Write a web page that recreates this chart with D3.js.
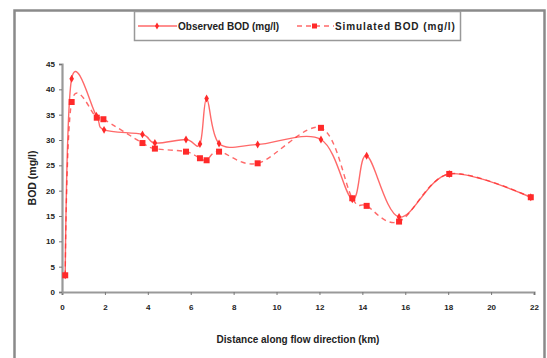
<!DOCTYPE html>
<html>
<head>
<meta charset="utf-8">
<script src="https://cdn.jsdelivr.net/npm/d3@7"></script>
<style>
  body { margin: 0; background: #fff; }
  text { font-family: "Liberation Sans", Arial, sans-serif; fill: #222; }
</style>
</head>
<body>
<div id="chart"></div>
<script>
// distance along flow (km) and BOD (mg/l)
const obsDist = [0.15, 0.45, 1.6, 1.96, 3.75, 4.33, 5.78, 6.43, 6.74, 7.32, 9.12, 12.07, 13.53, 14.2, 15.71, 18.05, 21.85];
const obsBod  = [3.3, 42.1, 34.8, 32.0, 31.1, 29.4, 30.1, 29.2, 38.2, 29.3, 29.1, 30.1, 18.3, 26.9, 14.8, 23.3, 18.7];
const simDist = [0.15, 0.45, 1.62, 1.93, 3.75, 4.33, 5.78, 6.43, 6.74, 7.32, 9.12, 12.07, 13.53, 14.2, 15.71, 18.05, 21.85];
const simBod  = [3.3, 37.5, 34.4, 34.1, 29.4, 28.3, 27.7, 26.4, 26.0, 27.7, 25.4, 32.4, 18.5, 17.0, 13.9, 23.3, 18.7];
const xTicks = [0, 2, 4, 6, 8, 10, 12, 14, 16, 18, 20, 22];
const yTicks = [0, 5, 10, 15, 20, 25, 30, 35, 40, 45];
const legendNames = ["Observed BOD (mg/l)", "Simulated BOD (mg/l)"];

const width = 547, height = 358;
const red = "#ff2a2a";

const svg = d3.select("#chart").append("svg")
  .attr("width", width).attr("height", height);

// outer frame
svg.append("rect")
  .attr("x", 14.5).attr("y", 10.5).attr("width", 530).attr("height", 360)
  .attr("fill", "none").attr("stroke", "#8a8a8a").attr("stroke-width", 2.5);

var x = d3.scaleLinear().domain([0, 22]).range([62, 534]);
var y = d3.scaleLinear().domain([0, 45]).range([292, 64]);

// axes
var xAxis = svg.append("g").attr("transform", "translate(0,292)")
  .call(d3.axisBottom(x).tickValues(xTicks).tickSize(3).tickPadding(9));
var yAxis = svg.append("g").attr("transform", "translate(62,0)")
  .call(d3.axisLeft(y).tickValues(yTicks).tickSize(3).tickPadding(4));
[xAxis, yAxis].forEach(function(a) {
  a.select(".domain").attr("stroke", "#999").attr("stroke-width", 2.2);
  a.selectAll(".tick line").attr("stroke", "#777");
  a.selectAll(".tick text").attr("font-size", 8).attr("font-weight", "bold")
    .attr("fill", "#222").attr("font-family", "'Liberation Sans', Arial, sans-serif");
});

// axis titles
svg.append("text")
  .attr("x", 298).attr("y", 343)
  .attr("text-anchor", "middle").attr("font-size", 10).attr("font-weight", "bold")
  .text("Distance along flow direction (km)");
svg.append("text")
  .attr("transform", "translate(36,178) rotate(-90)")
  .attr("text-anchor", "middle").attr("font-size", 10.5).attr("font-weight", "bold")
  .text("BOD (mg/l)");

var line = d3.line()
  .x(function(d) { return x(d[0]); })
  .y(function(d) { return y(d[1]); })
  .curve(d3.curveCardinal.tension(0));

var obs = d3.zip(obsDist, obsBod);
var sim = d3.zip(simDist, simBod);

svg.append("path").datum(sim)
  .attr("d", line).attr("fill", "none")
  .attr("stroke", red).attr("stroke-opacity", 0.7).attr("stroke-width", 1.4)
  .attr("stroke-dasharray", "5,4");
svg.append("path").datum(obs)
  .attr("d", line).attr("fill", "none")
  .attr("stroke", red).attr("stroke-opacity", 0.7).attr("stroke-width", 1.4);

// markers
svg.selectAll(".sq").data(sim).enter().append("rect")
  .attr("class", "sq")
  .attr("x", function(d) { return x(d[0]) - 3; })
  .attr("y", function(d) { return y(d[1]) - 3; })
  .attr("width", 6).attr("height", 6).attr("fill", red);
svg.selectAll(".dm").data(obs).enter().append("path")
  .attr("class", "dm")
  .attr("transform", function(d) { return "translate(" + x(d[0]) + "," + y(d[1]) + ")"; })
  .attr("d", d3.symbol(d3.symbolDiamond, 18)).attr("fill", red);

// legend
var lg = svg.append("g");
lg.append("rect").attr("x", 134.5).attr("y", 11.5).attr("width", 326).attr("height", 29)
  .attr("fill", "#fff").attr("stroke", "#999").attr("stroke-width", 1.5);
lg.append("line").attr("x1", 138).attr("x2", 177).attr("y1", 26).attr("y2", 26)
  .attr("stroke", red).attr("stroke-width", 1.4).attr("stroke-opacity", 0.7);
lg.append("path").attr("transform", "translate(157,26)")
  .attr("d", d3.symbol(d3.symbolDiamond, 14)).attr("fill", red);
lg.append("text").attr("x", 178).attr("y", 30).attr("font-size", 10).attr("font-weight", "bold")
  .text(legendNames[0]);
lg.append("line").attr("x1", 297).attr("x2", 334).attr("y1", 26).attr("y2", 26)
  .attr("stroke", red).attr("stroke-width", 1.4).attr("stroke-opacity", 0.7)
  .attr("stroke-dasharray", "5,4");
lg.append("rect").attr("x", 312).attr("y", 23.5).attr("width", 5).attr("height", 5).attr("fill", red);
lg.append("text").attr("x", 335).attr("y", 30).attr("font-size", 10).attr("font-weight", "bold")
  .attr("letter-spacing", 0.9)
  .text(legendNames[1]);
</script>
</body>
</html>
